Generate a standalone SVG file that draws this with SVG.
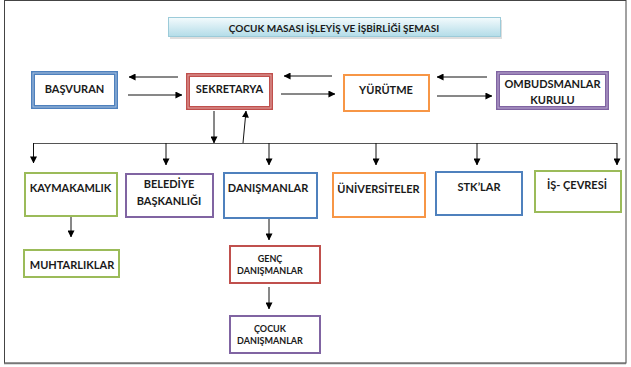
<svg xmlns="http://www.w3.org/2000/svg" width="631" height="367" viewBox="0 0 631 367">
<defs>
<linearGradient id="tg" x1="0" y1="0" x2="0" y2="1">
<stop offset="0" stop-color="#f4fbfd"/>
<stop offset="1" stop-color="#b3dce8"/>
</linearGradient>
<marker id="ah" viewBox="0 0 8 8" refX="7.5" refY="4" markerWidth="7" markerHeight="7" markerUnits="userSpaceOnUse" orient="auto">
<path d="M0,0 L8,4 L0,8 Z" fill="#000"/>
</marker>
<style>
.t{font-family:Lato,"Open Sans","Liberation Sans",sans-serif;font-weight:bold;font-size:11px;fill:#1a1a1a;text-anchor:middle;dominant-baseline:central}
.s{font-size:9px}
.box{fill:#fff}
.blue{stroke:#4f81bd}.red{stroke:#c0504d}.org{stroke:#f79646}.pur{stroke:#8064a2}.grn{stroke:#9bbb59}
.dbl{stroke-width:4}
.sgl{stroke-width:2}
.inb{fill:none;stroke-width:1}
.c{fill:none;stroke:#111;stroke-width:1}
.h{fill:none;stroke:#555;stroke-width:1}
</style>
</defs>
<rect x="4.5" y="0.5" width="621.5" height="362.5" fill="#fff" stroke="#444" stroke-width="1"/>
<line x1="4" y1="363.5" x2="626" y2="363.5" stroke="#777" stroke-width="1.5"/>

<g id="title">
<rect x="170" y="20" width="332" height="19" fill="#c8c8c8" opacity="0.6"/>
<rect x="168.5" y="17.5" width="332" height="19" fill="url(#tg)" stroke="#9ccbd9" stroke-width="1"/>
<text class="t" x="334" y="27.5" style="font-size:10px">ÇOCUK MASASI İŞLEYİŞ VE İŞBİRLİĞİ ŞEMASI</text>
</g>

<g id="basvuran">
<rect class="box blue dbl" x="33" y="73" width="83" height="34"/>
<rect class="inb" stroke="#a9c2e0" x="33" y="73" width="83" height="34"/>
<text class="t" x="74.5" y="88">BAŞVURAN</text>
</g>
<g id="sekretarya">
<rect class="box red dbl" x="188" y="75" width="83" height="33"/>
<rect class="inb" stroke="#e2a8a6" x="188" y="75" width="83" height="33"/>
<text class="t" x="229.5" y="88">SEKRETARYA</text>
</g>
<g id="yurutme">
<rect class="box org sgl" x="344" y="75" width="85" height="36"/>
<text class="t" x="386" y="89">YÜRÜTME</text>
</g>
<g id="ombudsmanlar">
<rect class="box pur dbl" x="498" y="73" width="109" height="35"/>
<rect class="inb" stroke="#bcaad2" x="498" y="73" width="109" height="35"/>
<text class="t" x="552.5" y="83">OMBUDSMANLAR</text>
<text class="t" x="552.5" y="99">KURULU</text>
</g>

<g id="kaymakamlik">
<rect class="box grn sgl" x="25" y="173" width="92" height="43"/>
<text class="t" x="70.5" y="187">KAYMAKAMLIK</text>
</g>
<g id="belediye">
<rect class="box pur sgl" x="126" y="174" width="87" height="43"/>
<text class="t" x="169" y="183">BELEDİYE</text>
<text class="t" x="169" y="200">BAŞKANLIĞI</text>
</g>
<g id="danismanlar">
<rect class="box blue sgl" x="224" y="173" width="93" height="45"/>
<text class="t" x="268" y="187">DANIŞMANLAR</text>
</g>
<g id="universiteler">
<rect class="box org sgl" x="333" y="173" width="92" height="44"/>
<text class="t" x="378.5" y="188">ÜNİVERSİTELER</text>
</g>
<g id="stklar">
<rect class="box blue sgl" x="436" y="172" width="86" height="43"/>
<text class="t" x="479" y="186">STK’LAR</text>
</g>
<g id="iscevresi">
<rect class="box grn sgl" x="535" y="171" width="86" height="41"/>
<text class="t" x="577" y="184">İŞ- ÇEVRESİ</text>
</g>
<g id="muhtarliklar">
<rect class="box grn sgl" x="24" y="250" width="95" height="27"/>
<text class="t" x="72" y="264">MUHTARLIKLAR</text>
</g>
<g id="genc">
<rect class="box red sgl" x="230" y="246" width="90" height="37"/>
<text class="t s" x="270" y="258">GENÇ</text>
<text class="t s" x="270" y="270">DANIŞMANLAR</text>
</g>
<g id="cocuk">
<rect class="box pur sgl" x="230" y="316" width="90" height="37"/>
<text class="t s" x="270" y="328">ÇOCUK</text>
<text class="t s" x="270" y="340">DANIŞMANLAR</text>
</g>

<g id="connectors">
<line class="c" x1="178" y1="77" x2="129" y2="77" marker-end="url(#ah)"/>
<line class="c" x1="128" y1="95" x2="182" y2="95" marker-end="url(#ah)"/>
<line class="c" x1="332" y1="76" x2="284" y2="76" marker-end="url(#ah)"/>
<line class="c" x1="281" y1="94" x2="335" y2="94" marker-end="url(#ah)"/>
<line class="c" x1="487" y1="77" x2="437" y2="77" marker-end="url(#ah)"/>
<line class="c" x1="437" y1="96" x2="492" y2="96" marker-end="url(#ah)"/>
<line class="c" x1="214" y1="111" x2="214" y2="143" marker-end="url(#ah)"/>
<line class="c" x1="243" y1="143" x2="246" y2="111" marker-end="url(#ah)"/>
<polyline class="h" points="33,143.5 617,143.5"/>
<line class="c" x1="33.5" y1="143" x2="33.5" y2="163" marker-end="url(#ah)"/>
<line class="c" x1="166" y1="143" x2="166" y2="165" marker-end="url(#ah)"/>
<line class="c" x1="269" y1="143" x2="269" y2="165" marker-end="url(#ah)"/>
<line class="c" x1="376" y1="143" x2="376" y2="165" marker-end="url(#ah)"/>
<line class="c" x1="477" y1="143" x2="477" y2="165" marker-end="url(#ah)"/>
<line class="c" x1="617" y1="143" x2="617" y2="165" marker-end="url(#ah)"/>
<line class="c" x1="71" y1="217" x2="71" y2="237" marker-end="url(#ah)"/>
<line class="c" x1="269" y1="219" x2="269" y2="240" marker-end="url(#ah)"/>
<line class="c" x1="269" y1="287" x2="269" y2="309" marker-end="url(#ah)"/>
</g>
</svg>
